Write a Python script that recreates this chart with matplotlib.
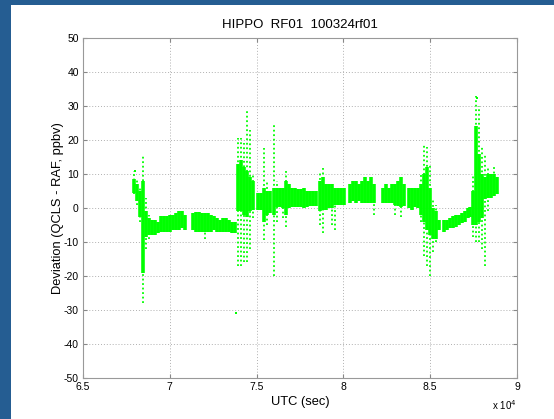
import numpy as np
import matplotlib.pyplot as plt
from matplotlib.patches import Rectangle
from matplotlib.ticker import FuncFormatter

plt.rcParams['font.family'] = ['Liberation Sans', 'DejaVu Sans']
plt.rcParams['axes.unicode_minus'] = False

# UTC (s) bins, with dense band and outer spread (ppbv)
utc = [67940, 68110, 68283, 68456, 68630, 68800, 68974, 69147, 69320,
       69493, 69666, 69840, 70013, 70186, 70358, 70530, 70700, 70875,
       71336, 71509, 71682, 71854, 72027, 72200, 72373, 72546, 72718,
       72891, 73064, 73237, 73410, 73582, 73755,
       73928, 74100, 74274, 74446, 74620, 74792,
       75080, 75253, 75426, 75600, 75770, 76000, 76174, 76347, 76520,
       76693, 76866, 77040, 77210, 77384, 77557, 77730, 77900, 78075,
       78250, 78420,
       78651, 78824, 78997, 79170, 79342, 79515, 79688, 79860, 80034,
       80380, 80552, 80725, 80898, 81070, 81243, 81416, 81590, 81762,
       82280, 82453, 82626, 82800, 82970, 83144, 83317, 83490,
       83778, 83950, 84123, 84296, 84470, 84642, 84814, 84987, 85160,
       85333, 85506,
       85794, 85966, 86139, 86312, 86485, 86658, 86830, 87003, 87176,
       87290, 87464, 87637, 87810, 87982, 88155, 88328, 88500, 88674,
       88846]
dense_hi = [8.5, 7, 5, 8, -1, -3, -3.5, -3.5, -4,
            -2.5, -2.5, -2.4, -2, -2, -1.5, -1, -1, -2,
            -1.5, -1.2, -1.2, -1.5, -1.5, -1.5, -2, -2.5, -3,
            -3.5, -3, -3, -3.5, -4, -4,
            13, 14, 12, 11, 9, 8,
            4.4, 4.4, 6, 5, 5, 6, 6, 6, 6,
            8, 7, 6, 6, 5.5, 5.5, 6, 5, 5,
            5, 5,
            8, 9, 7, 7, 7, 6, 6, 6, 6,
            7, 8, 8, 7, 8, 9, 8, 9, 7,
            6, 7, 6, 7, 7, 8, 9, 7,
            6, 6, 6, 6, 7, 10, 12, 6, 0,
            -1, -3.5,
            -3.5, -3.5, -3, -2.5, -2, -2, -1.5, -1, 0,
            0.3, 5, 24, 16, 10, 9, 10, 10, 10,
            9]
dense_lo = [4.4, 2, -2.6, -19, -8.5, -8, -8, -8, -7.5,
            -7, -7, -7, -7, -6.5, -6.5, -6.5, -6, -6.5,
            -6.5, -7, -7, -7, -7, -7, -7, -6.5, -7,
            -7, -7, -7, -7, -7.4, -7.4,
            -1, -1, -2, -2.6, -1, -0.6,
            -0.6, -0.6, -4, -2, -1.5, -2, 0.3, 0.3, 0,
            -2, 0, 0.3, 0.3, 0.3, 0.3, 0, 0.3, 0.6,
            0.6, 0.6,
            -1, -0.6, -0.6, 0, 0, 1, 1, 1, 1,
            1.5, 2, 1.5, 2, 1.5, 1.5, 1.5, 1.5, 1.5,
            1.5, 1.5, 1.5, 1.5, 1, 0.5, 0.3, 0.5,
            0, -0.6, 0.3, 0, -2, -4, -6.5, -8, -9,
            -9, -6.5,
            -7, -6.5, -6, -6, -5.5, -5, -4.5, -4, -3,
            -2.6, -5, -5, -4, -3, 2.5, 3, 3, 3.5,
            4]
outer_hi = [11, 8.5, 6, 15.6, 3, -2, -3.5, -3.5, -4,
            -2.5, -2.5, -2.4, -2, -2, -1.5, -1, -1, -2,
            -1.5, -1.2, -1.2, -1.5, -1.5, -1.5, -2, -2.5, -3,
            -3.5, -3, -3, -3.5, -4, -4,
            20.5, 20.5, 19, 29, 23, 10,
            4.4, 4.4, 17.6, 8, 5, 24.5, 8, 6, 6,
            11, 7, 6, 6, 5.5, 5.5, 6, 5, 5,
            5, 5,
            11, 12, 7, 7, 7, 6, 6, 6, 6,
            7, 8, 8, 7, 8, 9, 8, 9, 7,
            6, 7, 6, 7, 7, 8, 9, 7,
            6, 6, 6, 6, 10, 18.5, 18, 13, 3,
            1, -3.5,
            -3.5, -3.5, -3, -2.5, -2, -2, -1.5, -1, 0,
            0.3, 10, 33, 30, 18, 16, 12, 10, 12,
            9]
outer_lo = [4, 1, -4, -28, -12, -9, -8, -8, -7.5,
            -7, -7, -7, -7, -6.5, -6.5, -6.5, -6, -6.5,
            -6.5, -7, -7, -7, -9, -7, -7, -6.5, -7,
            -7, -7, -7, -7, -7.4, -7.4,
            -17, -17, -16, -16, -12, -3,
            -0.6, -0.6, -9.4, -5, -1.5, -20, -4, 0.3, -3,
            -5.6, 0, 0.3, 0.3, 0.3, 0.3, 0, 0.3, 0.6,
            0.6, 0.6,
            -5, -7.4, -0.6, 0, -5, -6.5, 1, 1, 1,
            1.5, 2, 1.5, 2, 1.5, 1.5, 1.5, 1.5, -2,
            1.5, 1.5, 1.5, 1.5, -2, 0.5, -2.6, 0.5,
            0, -0.6, 0.3, 0, -4, -14, -17, -20, -13,
            -10, -6.5,
            -7, -6.5, -6, -6, -5.5, -5, -4.5, -4, -3,
            -2.6, -8.5, -10, -10, -12, -17, -1, 3, 3.5,
            4]
# isolated points
lone_utc = [67990, 73813, 87700]
lone_dev = [11, -31, 32.3]

green = '#00ff00'

fig = plt.figure(figsize=(5.54, 4.19), dpi=100)
fig.patch.set_facecolor('#255d92')
fig.patches.append(Rectangle((11 / 554, 0), 1, 1 - 5 / 419, transform=fig.transFigure,
                             facecolor='white', edgecolor='none', zorder=-10))

ax = fig.add_axes([83 / 554, 1 - 378 / 419, 434 / 554, 340 / 419])
ax.vlines(utc, outer_lo, outer_hi, colors=green, linewidth=1.3, linestyles=(0, (1, 1.5)))
ax.vlines(utc, dense_lo, dense_hi, colors=green, linewidth=2.6)
ax.scatter(lone_utc, lone_dev, s=4, color=green, marker='s', linewidths=0)

ax.set_xlim(65000, 90000)
ax.set_ylim(-50, 50)
ax.set_xticks(np.arange(65000, 90001, 5000))
ax.set_yticks(np.arange(-50, 51, 10))
ax.xaxis.set_major_formatter(FuncFormatter(lambda v, p: '%g' % (v / 1e4)))
ax.grid(True, color='#b0b0b0', linestyle=(0, (1, 2)), linewidth=0.7)
ax.tick_params(direction='in', top=True, right=True, labelsize=7.5, length=3,
               color='#888888', pad=3)
for s in ax.spines.values():
    s.set_color('#999999')
    s.set_linewidth(0.8)

ax.set_title('HIPPO  RF01  100324rf01', fontsize=9.5, pad=7)
ax.set_xlabel('UTC (sec)', fontsize=9.3, labelpad=3)
ax.set_ylabel('Deviation (QCLS - RAF, ppbv)', fontsize=9.3, labelpad=0)
ax.text(1.0, -0.06, r'x 10$^4$', transform=ax.transAxes, fontsize=7,
        ha='right', va='top')

fig.savefig('out.png', dpi=100, facecolor=fig.get_facecolor())
